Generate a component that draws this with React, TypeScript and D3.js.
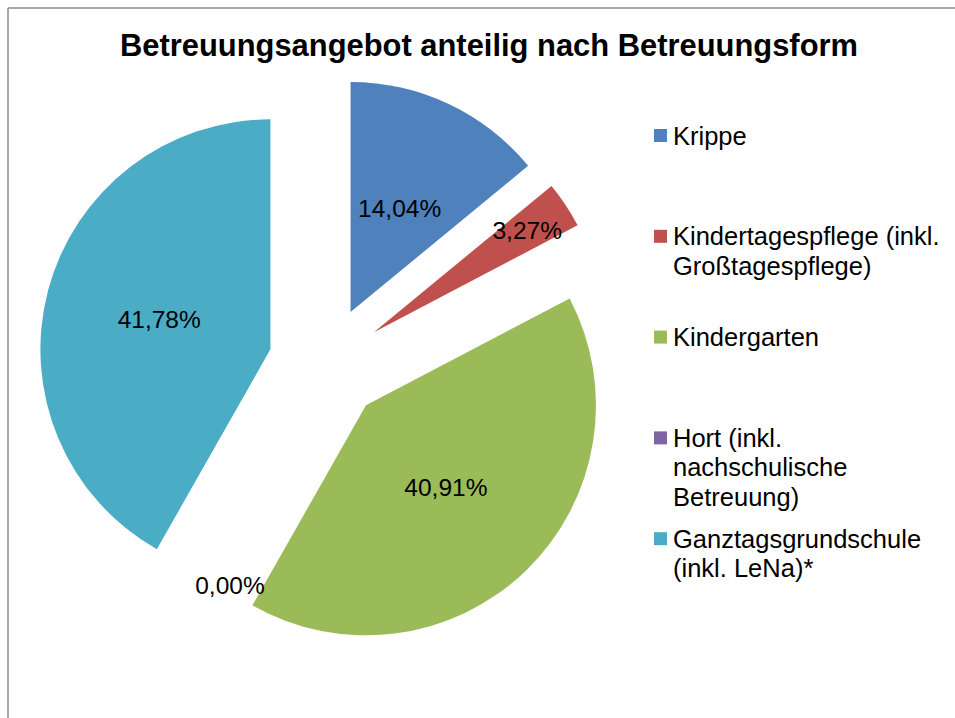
import React from "react";
import * as d3 from "d3";

const categories = [
  "Krippe",
  "Kindertagespflege (inkl. Großtagespflege)",
  "Kindergarten",
  "Hort (inkl. nachschulische Betreuung)",
  "Ganztagsgrundschule (inkl. LeNa)*",
];
const legendLines = [
  ["Krippe"],
  ["Kindertagespflege (inkl.", "Großtagespflege)"],
  ["Kindergarten"],
  ["Hort (inkl.", "nachschulische", "Betreuung)"],
  ["Ganztagsgrundschule", "(inkl. LeNa)*"],
];
const values = [14.04, 3.27, 40.91, 0.0, 41.78];
const labels = ["14,04%", "3,27%", "40,91%", "0,00%", "41,78%"];
const colors = ["#4F81BD", "#C0504D", "#9BBB59", "#8064A2", "#4BACC6"];
const title = "Betreuungsangebot anteilig nach Betreuungsform";

const W = 955;
const H = 718;
const cx = 326;
const cy = 364;
const R = 230;
const explode = 0.25 * R;
const FONT = "'Liberation Sans', Arial, sans-serif";

export default function App() {
  const pie = d3
    .pie<number>()
    .sort(null)
    .value((d) => d)
    .startAngle(0)
    .endAngle(2 * Math.PI);
  const arcs = pie(values);
  const arc = d3.arc<d3.PieArcDatum<number>>().innerRadius(0).outerRadius(R);

  const legendX = 654;
  const legendY0 = 135.5;
  const legendStep = 100.8;
  const lineH = 29.5;

  return (
    <svg
      width={W}
      height={H}
      style={{ position: "absolute", left: 0, top: 0, background: "#fff" }}
    >
      <rect x={0} y={0} width={W} height={H} fill="#fff" />
      <line x1={8} y1={8} x2={W} y2={8} stroke="#8c8c8c" strokeWidth={1.5} />
      <line x1={8} y1={8} x2={8} y2={H} stroke="#8c8c8c" strokeWidth={1.5} />
      <text
        x={489}
        y={56}
        textAnchor="middle"
        fontFamily={FONT}
        fontWeight="bold"
        fontSize={30.9}
        fill="#000"
      >
        {title}
      </text>
      {arcs.map((a, i) => {
        const mid = (a.startAngle + a.endAngle) / 2;
        const ox = cx + Math.sin(mid) * explode;
        const oy = cy - Math.cos(mid) * explode;
        const small = values[i] < 5;
        const zero = values[i] === 0;
        const lr = (small ? 0.8 : 0.5) * R;
        const la = zero ? mid - 0.14 : mid;
        const lx = ox + Math.sin(la) * lr;
        const ly = oy - Math.cos(la) * lr;
        return (
          <g key={categories[i]}>
            {values[i] > 0 && (
              <path
                d={arc(a) || ""}
                transform={`translate(${ox},${oy})`}
                fill={colors[i]}
              />
            )}
            <text
              x={lx}
              y={ly}
              textAnchor="middle"
              dominantBaseline="central"
              fontFamily={FONT}
              fontSize={24.5}
              fill="#000"
            >
              {labels[i]}
            </text>
          </g>
        );
      })}
      {legendLines.map((lines, i) => {
        const y = legendY0 + i * legendStep;
        return (
          <g key={"lg" + i}>
            <rect x={legendX} y={y - 6.5} width={13} height={13} fill={colors[i]} />
            {lines.map((t, j) => (
              <text
                key={j}
                x={legendX + 19}
                y={y + j * lineH}
                dominantBaseline="central"
                fontFamily={FONT}
                fontSize={25.5}
                fill="#000"
              >
                {t}
              </text>
            ))}
          </g>
        );
      })}
    </svg>
  );
}
